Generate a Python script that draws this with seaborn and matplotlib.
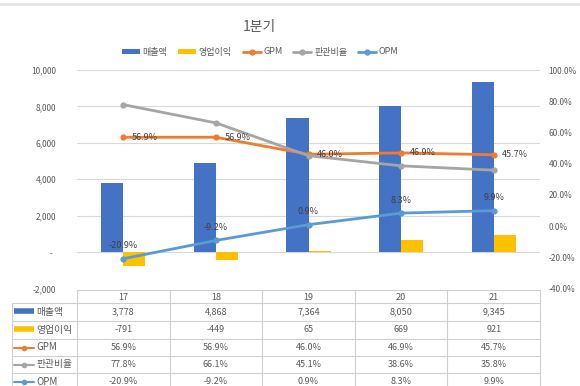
import numpy as np
import pandas as pd
import matplotlib
matplotlib.use("Agg")
import matplotlib.pyplot as plt
import seaborn as sns
from matplotlib.lines import Line2D
from matplotlib.patches import Patch, Rectangle

# ---------------- data ----------------
years = ["17", "18", "19", "20", "21"]
sales = [3778, 4868, 7364, 8050, 9345]          # 매출액
op_profit = [-791, -449, 65, 669, 921]          # 영업이익
gpm = [56.9, 56.9, 46.0, 46.9, 45.7]            # GPM (%)
sga_ratio = [77.8, 66.1, 45.1, 38.6, 35.8]      # 판관비율 (%)
opm = [-20.9, -9.2, 0.9, 8.3, 9.9]              # OPM (%)

bar_names = ["매출액", "영업이익"]
line_names = ["GPM", "판관비율", "OPM"]
left_ticks = [-2000, 0, 2000, 4000, 6000, 8000, 10000]
right_ticks = [-40, -20, 0, 20, 40, 60, 80, 100]

C_BLUE, C_YEL, C_ORG, C_GRY, C_LBL = "#4472C4", "#FFC000", "#ED7D31", "#A5A5A5", "#5B9BD5"
TXT = "#595959"
GRID = "#D9D9D9"

sns.set_theme(style="white")
plt.rcParams["font.family"] = ["Noto Sans CJK KR", "DejaVu Sans"]

W, H = 580, 386
fig = plt.figure(figsize=(W / 100, H / 100), dpi=100)

# plot area in pixels
PL, PR, PT, PB = 77, 540, 70, 288.5
ax = fig.add_axes([PL / W, 1 - PB / H, (PR - PL) / W, (PB - PT) / H])

bar_df = pd.DataFrame({
    "year": years * 2,
    "value": sales + op_profit,
    "series": [bar_names[0]] * 5 + [bar_names[1]] * 5,
})
sns.barplot(data=bar_df, x="year", y="value", hue="series", order=years,
            hue_order=bar_names, palette=[C_BLUE, C_YEL], saturation=1, width=0.476,
            gap=0, linewidth=0, ax=ax, legend=False, zorder=2)
ax.set_xlim(-0.5, 4.5)
ax.set_ylim(-2000, 10000)
ax.set_yticks(left_ticks)
ax.set_yticklabels(["-2,000", "-  ", "2,000", "4,000", "6,000", "8,000", "10,000"])
ax.set_xticks([])
ax.set_xlabel("")
ax.set_ylabel("")
for s in ax.spines.values():
    s.set_visible(False)
ax.tick_params(axis="y", length=0, pad=15, labelsize=6, labelcolor=TXT)
for t in left_ticks[1:]:
    ax.axhline(t, color=GRID, lw=0.8, zorder=0)

ax2 = ax.twinx()
xs = np.arange(len(years))
line_df = pd.DataFrame({
    "x": np.concatenate([xs, xs, xs]),
    "value": gpm + sga_ratio + opm,
    "series": [line_names[0]] * 5 + [line_names[1]] * 5 + [line_names[2]] * 5,
})
sns.lineplot(data=line_df, x="x", y="value", hue="series", hue_order=line_names,
             palette=[C_ORG, C_GRY, C_LBL], marker="o", markersize=4.5,
             markeredgewidth=0, linewidth=2, ax=ax2, legend=False, zorder=3)
ax2.set_ylim(-40, 100)
ax2.set_yticks(right_ticks)
ax2.set_yticklabels([f"{v:.1f}%" for v in right_ticks])
ax2.set_xlim(-0.5, 4.5)
ax2.set_xlabel("")
ax2.set_ylabel("")
for s in ax2.spines.values():
    s.set_visible(False)
ax2.tick_params(axis="y", length=0, pad=6, labelsize=6, labelcolor=TXT)
ax2.grid(False)

# data labels
for i, v in enumerate(gpm):
    ax2.annotate(f"{v:.1f}%", (i, v), xytext=(6, 0), textcoords="offset points",
                 ha="left", va="center", fontsize=6.5, color="#404040")
for i, v in enumerate(opm):
    ax2.annotate(f"{v:.1f}%", (i, v), xytext=(0, 6), textcoords="offset points",
                 ha="center", va="bottom", fontsize=6.5, color="#404040")

# title & legend
fig.text(259 / W, 1 - 27 / H, "1분기", ha="center", va="center", fontsize=10, color=TXT)
handles = [
    Patch(facecolor=C_BLUE, edgecolor="none"),
    Patch(facecolor=C_YEL, edgecolor="none"),
    Line2D([], [], color=C_ORG, lw=2, marker="o", ms=3.5),
    Line2D([], [], color=C_GRY, lw=2, marker="o", ms=3.5),
    Line2D([], [], color=C_LBL, lw=2, marker="o", ms=3.5),
]
leg = fig.legend(handles, bar_names + line_names, loc="center",
                 bbox_to_anchor=(260 / W, 1 - 52 / H), ncol=5, frameon=False,
                 fontsize=6.5, handlelength=2.0, handleheight=0.5,
                 columnspacing=1.2, handletextpad=0.3, labelcolor=TXT)

# top window band
fig.add_artist(Rectangle((0, 1 - 6 / H), 1, 2.5 / H, transform=fig.transFigure,
                         facecolor="#E6E6E6", edgecolor="none"))

# ---------------- data table ----------------
tab = fig.add_axes([PL / W, 0, (PR - PL) / W, 1])
tab.set_xlim(-0.5, 4.5)
tab.set_ylim(H, 0)
tab.axis("off")
tab.patch.set_alpha(0)
cw = (PR - PL) / len(years)
def px2x(px):
    return -0.5 + (px - PL) / cw

LC = "#D0D0D0"
row_edges = [290, 303, 321, 339, 356, 373, 391]
x_left = px2x(12)
x_right = 4.5
# horizontal lines
tab.plot([-0.5, x_right], [row_edges[0]] * 2, color=LC, lw=0.8, clip_on=False)
for y in row_edges[1:]:
    tab.plot([x_left, x_right], [y, y], color=LC, lw=0.8, clip_on=False)
# vertical lines
for k in range(len(years) + 1):
    tab.plot([-0.5 + k, -0.5 + k], [row_edges[0], row_edges[-1]], color=LC, lw=0.8, clip_on=False)
tab.plot([x_left, x_left], [row_edges[1], row_edges[-1]], color=LC, lw=0.8, clip_on=False)

# header
for i, yl in enumerate(years):
    tab.text(i, (row_edges[0] + row_edges[1]) / 2 + 0.5, yl, ha="center", va="center",
             fontsize=6.5, color=TXT)

row_names = bar_names + line_names
row_vals = [
    [f"{v:,}" for v in sales],
    [f"{v:,}" for v in op_profit],
    [f"{v:.1f}%" for v in gpm],
    [f"{v:.1f}%" for v in sga_ratio],
    [f"{v:.1f}%" for v in opm],
]
row_cols = [C_BLUE, C_YEL, C_ORG, C_GRY, C_LBL]
for r in range(5):
    yc = (row_edges[r + 1] + row_edges[r + 2]) / 2
    k0, k1 = px2x(14), px2x(34)
    if r < 2:
        tab.plot([k0, k1], [yc - 1, yc - 1], color=row_cols[r], lw=4, solid_capstyle="butt",
                 clip_on=False)
    else:
        tab.plot([k0, k1], [yc, yc], color=row_cols[r], lw=1.5, clip_on=False)
        tab.plot([(k0 + k1) / 2], [yc], marker="o", ms=3, color=row_cols[r], clip_on=False)
    tab.text(px2x(36), yc, row_names[r], ha="left", va="center", fontsize=7, color=TXT,
             clip_on=False)
    for i in range(len(years)):
        tab.text(i, yc, row_vals[r][i], ha="center", va="center", fontsize=6.5, color=TXT)

fig.savefig("out.png", dpi=100)
